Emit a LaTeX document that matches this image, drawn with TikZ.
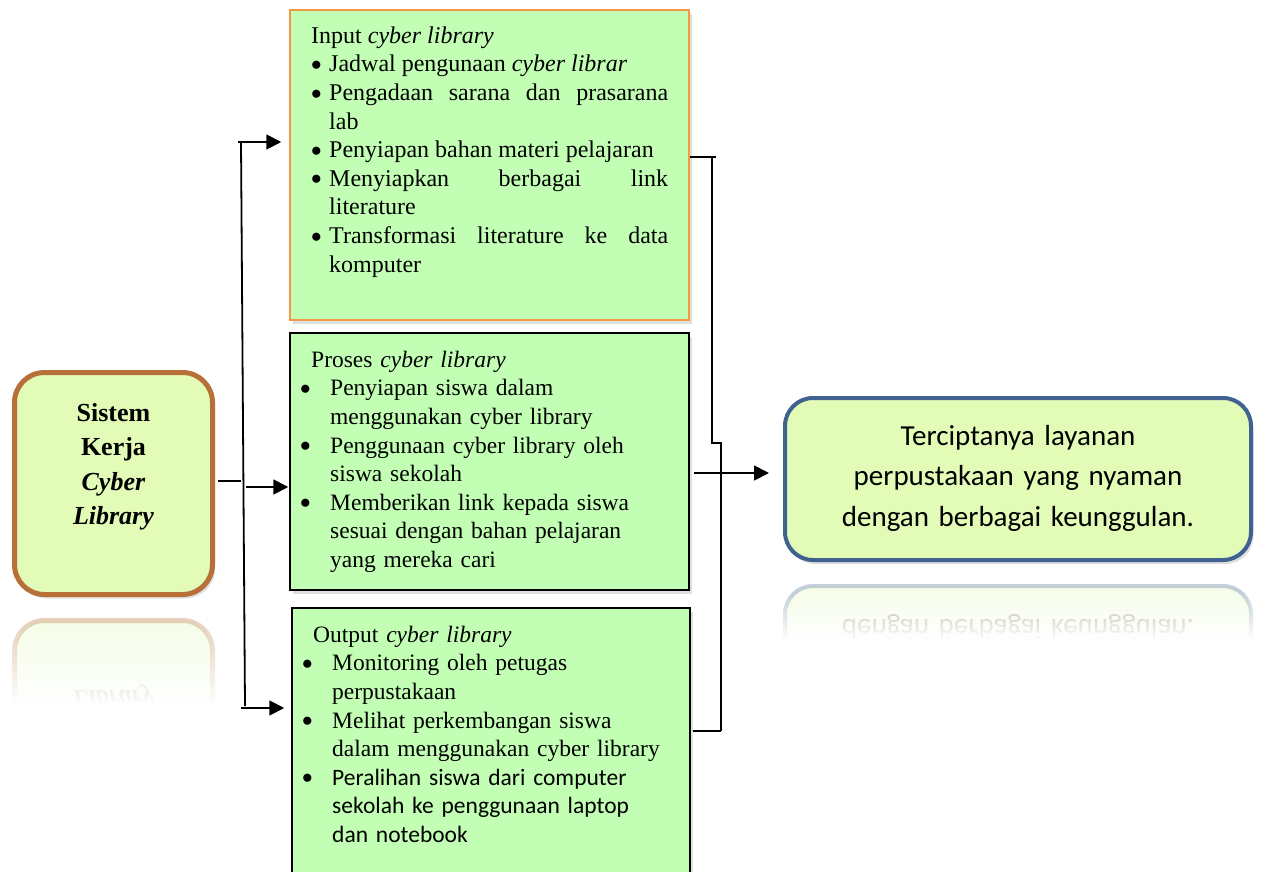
\documentclass[tikz,border=0pt]{standalone}
\usepackage{fontspec}
\setmainfont{Liberation Serif}
\newfontfamily\carlito{Carlito}
\usetikzlibrary{arrows.meta,shadows,fadings}
\definecolor{boxgreen}{RGB}{194,255,180}
\definecolor{boxlime}{RGB}{226,251,183}
\definecolor{brownedge}{RGB}{182,112,56}
\definecolor{blueedge}{RGB}{64,98,145}
\definecolor{orangeedge}{RGB}{247,150,70}
\newcommand{\bitem}[2][18pt]{\par\noindent\hangindent=#1\hangafter=1\makebox[#1][l]{\raisebox{1.3pt}{\scalebox{0.85}{$\bullet$}}}#2}
\tikzset{
  shadowed/.style={drop shadow={opacity=0.25, shadow xshift=2.5pt, shadow yshift=-4pt}},
  greenbox/.style={draw=black, line width=1.5pt, fill=boxgreen, inner sep=0pt, rectangle},
  limebox/.style={fill=boxlime, inner sep=0pt, rectangle},
  sysbox/.style={limebox, draw=brownedge, line width=5pt, minimum width=198pt, minimum height=222pt, rounded corners=30pt},
  resbox/.style={limebox, draw=blueedge, line width=4pt, minimum width=466pt, minimum height=162pt, rounded corners=28pt},
  txt/.style={inner sep=0pt, anchor=north west, font=\fontsize{24}{28.6}\selectfont},
  txtsmall/.style={inner sep=0pt, anchor=north west, font=\fontsize{23.5}{28.6}\selectfont},
  systext/.style={inner sep=0pt, anchor=north, text width=190pt, align=center, font=\fontsize{26}{34.5}\selectfont\bfseries},
  restext/.style={inner sep=0pt, anchor=north, text width=450pt, align=center, font=\carlito\fontsize{29}{40.5}\selectfont},
  conn/.style={line width=1.8pt, draw=black},
  arr/.style={conn, -{Triangle[length=15pt,width=15pt]}}
}
\begin{document}
\begin{tikzpicture}[x=1pt, y=-1pt]
\useasboundingbox (0,0) rectangle (1262,872);
\fill[white] (0,0) rectangle (1262,872);

% ---------- left system box ----------
\node[sysbox, shadowed] (sys) at (113.5,483.5) {};
\node[systext] (systxt) at (113.5,397) {\strut Sistem\\Kerja\\\textit{Cyber}\\\textit{Library}};

% reflection of left box
\begin{scope}
  \clip (0,600) rectangle (232,712);
  \begin{scope}[shift={(0,1215)}, yscale=-1, opacity=0.35]
    \node[sysbox, transform shape] (sysR) at (113.5,483.5) {};
    \node[systext, transform shape] (sysRt) at (113.5,397) {\strut Sistem\\Kerja\\\textit{Cyber}\\\textit{Library}};
  \end{scope}
\end{scope}
\fill[white, path fading=north] (0,612) rectangle (232,706);
\fill[white] (0,705) rectangle (232,716);

% ---------- green boxes ----------
\node[greenbox, shadowed, draw=orangeedge, minimum width=399pt, minimum height=310pt] (inp) at (489.5,165) {};
\node[greenbox, shadowed, minimum width=399pt, minimum height=257pt] (proc) at (489.5,461.5) {};
\node[greenbox, shadowed, minimum width=398pt, minimum height=282pt] (outp) at (491,749) {};

\node[txt, text width=357pt, align=justify] (inptxt) at (311,23) {%
\noindent\strut Input \textit{cyber library}%
\bitem{Jadwal pengunaan \textit{cyber librar}}%
\bitem{Pengadaan sarana dan prasarana\linebreak lab}%
\bitem{Penyiapan bahan materi pelajaran}%
\bitem{Menyiapkan berbagai link\linebreak literature}%
\bitem{Transformasi literature ke data\linebreak komputer}\par};

\node[txtsmall, text width=385pt, align=left] (proctxt) at (300,347) {%
\noindent\strut\hspace*{11pt}Proses \textit{cyber library}%
\bitem[30pt]{Penyiapan siswa dalam\newline menggunakan cyber library}%
\bitem[30pt]{Penggunaan cyber library oleh\newline siswa sekolah}%
\bitem[30pt]{Memberikan link kepada siswa\newline sesuai dengan bahan pelajaran\newline yang mereka cari}\par};

\node[txtsmall, text width=385pt, align=left] (outtxt) at (302,622) {%
\noindent\strut\hspace*{11pt}Output \textit{cyber library}%
\bitem[30pt]{Monitoring oleh petugas\newline perpustakaan}%
\bitem[30pt]{Melihat perkembangan siswa\newline dalam menggunakan cyber library}%
\bitem[30pt]{{\carlito Peralihan siswa dari computer\newline sekolah ke penggunaan laptop\newline dan notebook}}\par};

% ---------- result box ----------
\node[resbox, shadowed] (res) at (1018,479) {};
\node[restext] (restxt) at (1018,416.6) {\strut Terciptanya layanan\\perpustakaan yang nyaman\\dengan berbagai keunggulan.};

% reflection of result box
\begin{scope}
  \clip (770,578) rectangle (1262,646);
  \begin{scope}[shift={(0,1146)}, yscale=-1, opacity=0.3]
    \node[resbox, transform shape] (resR) at (1018,479) {};
    \node[restext, transform shape] (resRt) at (1018,416.6) {\strut Terciptanya layanan\\perpustakaan yang nyaman\\dengan berbagai keunggulan.};
  \end{scope}
\end{scope}
\fill[white, path fading=north] (770,590) rectangle (1262,641);
\fill[white] (770,640) rectangle (1262,650);

% ---------- left connectors ----------
\coordinate (jl) at (241,481);
\coordinate (spT) at (241,142);
\coordinate (spM) at (243.3,487);
\coordinate (spB) at (245,708);
\draw[conn] ([xshift=2.5pt]sys.east |- jl) -- (jl);
\draw[conn] (spT) -- ([yshift=2pt]spB);
\draw[arr, shorten >=8pt] ([xshift=-3pt]spT) -- (inp.west |- spT);
\draw[arr, shorten >=1pt] ([xshift=3pt]spM) -- (proc.west |- spM);
\draw[arr, shorten >=7pt] ([xshift=-4pt]spB) -- (outp.west |- spB);

% ---------- right connectors ----------
\coordinate (rT) at (712,157);
\coordinate (rJ1) at (712,443);
\coordinate (rJ2) at (721,443);
\coordinate (rB) at (721,731);
\coordinate (rM) at (693,473);
\draw[conn] (inp.east |- rT) -- ([xshift=4pt]rT);
\draw[conn] (rT) -- (rJ1) -- (rJ2) -- (rB);
\draw[conn, shorten <=2pt] (outp.east |- rB) -- (rB);
\draw[arr, shorten <=4pt, shorten >=14pt] (proc.east |- rM) -- (res.west |- rM);
\end{tikzpicture}
\end{document}
